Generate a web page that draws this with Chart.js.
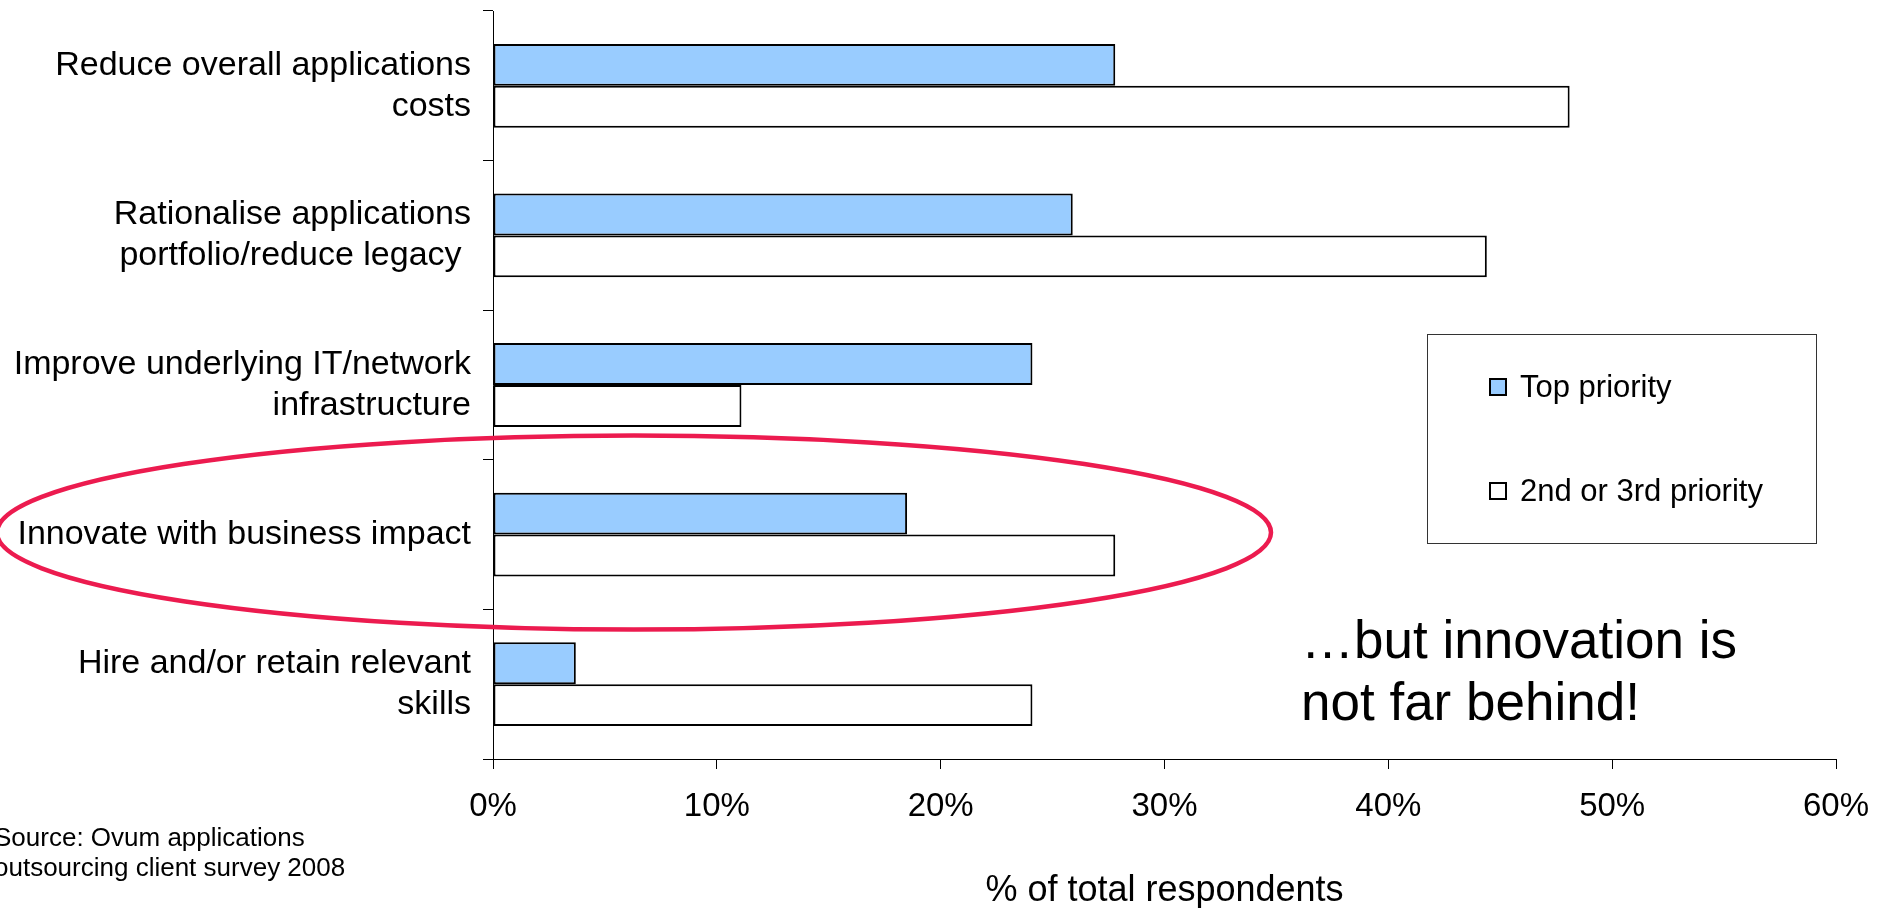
<!DOCTYPE html>
<html>
<head>
<meta charset="utf-8">
<script src="https://cdn.jsdelivr.net/npm/chart.js@4"></script>
<style>
  html, body { margin: 0; padding: 0; background: #fff; }
  #wrap { position: relative; width: 1892px; height: 908px; overflow: hidden; font-family: 'Liberation Sans', Arial, sans-serif; color: #000; }
  #chart { position: absolute; left: 0; top: 0; }
  .legend-box { position: absolute; left: 1427px; top: 334px; width: 390px; height: 210px; border: 1px solid #333; box-sizing: border-box; }
  .legend-item { position: absolute; left: 61px; font-size: 31px; line-height: 36px; display: flex; align-items: center; white-space: nowrap; }
  .legend-swatch { width: 18px; height: 18px; border: 2px solid #000; box-sizing: border-box; margin-right: 13px; }
  .note { position: absolute; left: 1301px; top: 609px; font-size: 53px; line-height: 62px; white-space: nowrap; }
  .source { position: absolute; left: -6px; top: 822px; font-size: 26px; line-height: 30px; white-space: nowrap; }
</style>
</head>
<body>
<div id="wrap">
  <canvas id="chart" width="1892" height="908"></canvas>
  <div class="legend-box" id="legend"></div>
  <div class="note">…but innovation is<br>not far behind!</div>
  <div class="source">Source: Ovum applications<br>outsourcing client survey 2008</div>
</div>
<script>
const FONT = "'Liberation Sans', Arial, sans-serif";

const categories = [
    ['Reduce overall applications', 'costs'],
    ['Rationalise applications', 'portfolio/reduce legacy '],
    ['Improve underlying IT/network', 'infrastructure'],
    'Innovate with business impact',
    ['Hire and/or retain relevant', 'skills']
];
const topPriority = [27.8, 25.9, 24.1, 18.5, 3.7];
const secondOrThird = [48.1, 44.4, 11.1, 27.8, 24.1];
const xTicks = [0, 10, 20, 30, 40, 50, 60];
const highlightIndex = 3;

// red ring round the "Innovate" row
const highlight = {
    id: 'highlight',
    afterDraw(chart) {
        const ctx = chart.ctx;
        const cy = chart.scales.y.getPixelForValue(highlightIndex);
        ctx.save();
        ctx.strokeStyle = '#EC1B4F';
        ctx.lineWidth = 4.5;
        ctx.beginPath();
        ctx.ellipse(634, cy - 2, 637, 97, 0, 0, Math.PI * 2);
        ctx.stroke();
        ctx.restore();
    }
};

const chart = new Chart(document.getElementById('chart'), {
    type: 'bar',
    data: {
        labels: categories,
        datasets: [{
            label: 'Top priority',
            data: topPriority,
            backgroundColor: '#99CCFF',
            borderColor: '#000',
            borderWidth: 2,
            borderSkipped: false
        }, {
            label: '2nd or 3rd priority',
            data: secondOrThird,
            backgroundColor: '#FFFFFF',
            borderColor: '#000',
            borderWidth: 2,
            borderSkipped: false
        }]
    },
    options: {
        indexAxis: 'y',
        responsive: false,
        animation: false,
        devicePixelRatio: 1,
        categoryPercentage: 0.56,
        barPercentage: 1.0,
        layout: { padding: { left: 0, right: 56, top: 11, bottom: 0 } },
        plugins: {
            legend: { display: false },
            tooltip: { enabled: false }
        },
        scales: {
            y: {
                grid: { drawOnChartArea: false, color: '#000', tickLength: 10, offset: true },
                border: { color: '#000', width: 1 },
                ticks: { color: '#000', font: { family: FONT, size: 34, lineHeight: 1.2 }, padding: 12 },
                afterFit: s => {
                    s.width = 493;
                    s.paddingTop = 0;
                    s.paddingBottom = 0;
                }
            },
            x: {
                min: 0,
                max: 60,
                afterBuildTicks: s => { s.ticks = xTicks.map(v => ({ value: v })); },
                grid: { drawOnChartArea: false, color: '#000', tickLength: 10 },
                border: { color: '#000', width: 1 },
                ticks: {
                    color: '#000',
                    font: { family: FONT, size: 33 },
                    padding: 18,
                    callback: v => v + '%'
                },
                title: {
                    display: true,
                    text: '% of total respondents',
                    color: '#000',
                    font: { family: FONT, size: 36 },
                    padding: { top: 0, bottom: -5 }
                },
                afterFit: s => { s.height = 149; }
            }
        }
    },
    plugins: [highlight]
});

// legend box built from the datasets
const legend = document.getElementById('legend');
const itemTops = [34, 138];
chart.data.datasets.forEach((ds, i) => {
    const item = document.createElement('div');
    item.className = 'legend-item';
    item.style.top = itemTops[i] + 'px';
    item.innerHTML = `<span class="legend-swatch" style="background:${ds.backgroundColor}"></span><span>${ds.label}</span>`;
    legend.appendChild(item);
});
</script>
</body>
</html>
